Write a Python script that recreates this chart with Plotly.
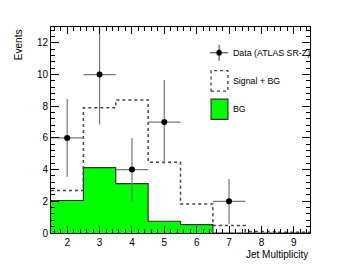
import plotly.graph_objects as go

# ---- data ----
jet_mult = [2, 3, 4, 5, 6, 7, 8, 9]
bg = [2.05, 4.12, 3.12, 0.74, 0.53, 0.0, 0.0, 0.0]
sig_bg = [2.68, 7.9, 8.4, 4.47, 1.83, 0.48, 0.1, 0.05]
data_x = [2, 3, 4, 5, 7]
data_y = [6, 10, 4, 7, 2]
data_err = [2.45, 3.16, 2.0, 2.65, 1.41]

edges = [c - 0.5 for c in jet_mult] + [jet_mult[-1] + 0.5]

fig = go.Figure()
fig.add_trace(go.Scatter(
    x=edges, y=bg + [bg[-1]], mode="lines", line_shape="hv",
    line=dict(color="#333333", width=1.2), fill="tozeroy", fillcolor="#00ff00",
    showlegend=False, hoverinfo="skip"))
fig.add_trace(go.Scatter(
    x=edges, y=sig_bg + [sig_bg[-1]], mode="lines", line_shape="hv",
    line=dict(color="#444444", width=1.5, dash="dot"),
    showlegend=False, hoverinfo="skip"))
fig.add_trace(go.Scatter(
    x=data_x, y=data_y, mode="markers",
    marker=dict(color="black", size=6),
    error_y=dict(type="data", array=data_err, color="#777777", thickness=1.2, width=0),
    error_x=dict(type="constant", value=0.5, color="#777777", thickness=1.2, width=0),
    showlegend=False, hoverinfo="skip"))

font = "Liberation Sans, Arial, sans-serif"

# legend drawn ROOT-style
shapes = [
    dict(type="line", xref="paper", yref="paper", x0=0.614, x1=0.684, y0=0.875, y1=0.875,
         line=dict(color="#555", width=1.2)),
    dict(type="line", xref="paper", yref="paper", x0=0.649, x1=0.649, y0=0.836, y1=0.914,
         line=dict(color="#555", width=1.2)),
    dict(type="circle", xref="paper", yref="paper", x0=0.6385, x1=0.6595, y0=0.8605, y1=0.8895,
         fillcolor="black", line=dict(color="black", width=0)),
    dict(type="rect", xref="paper", yref="paper", x0=0.618, x1=0.683, y0=0.689, y1=0.788,
         line=dict(color="#444", width=1.3, dash="dot"), fillcolor="rgba(0,0,0,0)"),
    dict(type="rect", xref="paper", yref="paper", x0=0.618, x1=0.683, y0=0.552, y1=0.650,
         line=dict(color="#333", width=1.2), fillcolor="#00ff00"),
]
lf = dict(size=8.8, color="black", family=font)
annotations = [
    dict(text="Data (ATLAS SR-Z)", x=0.696, y=0.875, xref="paper", yref="paper",
         xanchor="left", yanchor="middle", showarrow=False, font=lf),
    dict(text="Signal + BG", x=0.696, y=0.738, xref="paper", yref="paper",
         xanchor="left", yanchor="middle", showarrow=False, font=lf),
    dict(text="BG", x=0.696, y=0.602, xref="paper", yref="paper",
         xanchor="left", yanchor="middle", showarrow=False, font=lf),
    dict(text="Events", x=-0.125, y=1.0, xref="paper", yref="paper", textangle=-90,
         xanchor="center", yanchor="top", showarrow=False, font=dict(size=10, color="black", family=font)),
    dict(text="Jet Multiplicity", x=1.0, y=-0.105, xref="paper", yref="paper",
         xanchor="right", yanchor="middle", showarrow=False, font=dict(size=10, color="black", family=font)),
]

axis_common = dict(showgrid=False, zeroline=False, showline=True, linecolor="black", linewidth=1,
                   mirror="ticks", ticks="inside", tickcolor="black", tickwidth=1,
                   tickfont=dict(size=10, color="black", family=font))

# the page body has an 8px margin, so the figure is drawn slightly smaller
fig.update_layout(
    width=337, height=266, margin=dict(l=43, r=35, t=19, b=41),
    paper_bgcolor="white", plot_bgcolor="white",
    shapes=shapes, annotations=annotations,
    xaxis=dict(range=[1.5, 9.5], dtick=1, tick0=0, ticklen=7,
               minor=dict(dtick=0.2, ticks="inside", ticklen=4, tickcolor="black"),
               **axis_common),
    yaxis=dict(range=[0, 13], dtick=2, tick0=0, ticklen=8,
               minor=dict(dtick=0.4, ticks="inside", ticklen=4, tickcolor="black"),
               **axis_common),
)
fig.write_html("out.html")
